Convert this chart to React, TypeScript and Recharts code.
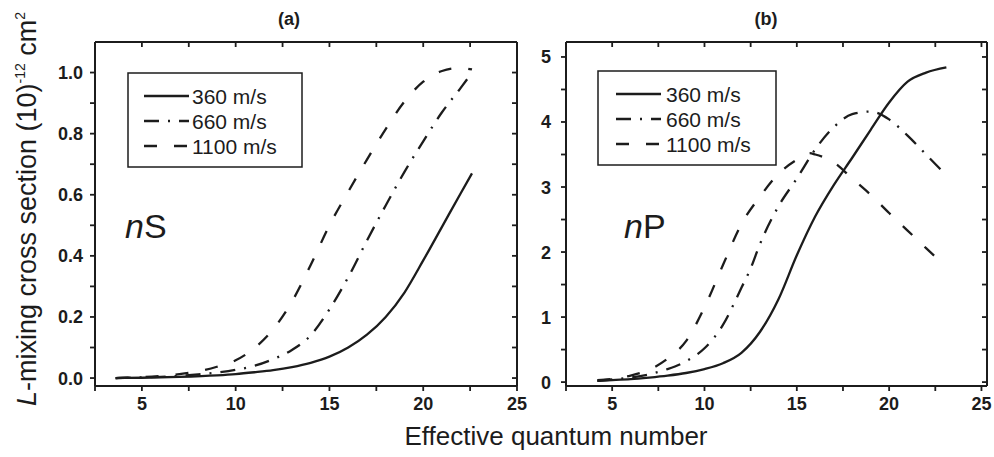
import React from 'react'
import { LineChart, Line, XAxis, YAxis } from 'recharts'

const W = 994
const H = 457
const FONT = '"Liberation Sans", Arial, Helvetica, sans-serif'
const INK = '#1c1c1c'

const speeds = ['360 m/s', '660 m/s', '1100 m/s']
const dashes = ['', '15 9 2 9', '13 17']

const xTicks = [2.5, 5, 7.5, 10, 12.5, 15, 17.5, 20, 22.5, 25]
const xMajor = [5, 10, 15, 20, 25]
const sYTicks = [0, 0.1, 0.2, 0.3, 0.4, 0.5, 0.6, 0.7, 0.8, 0.9, 1.0]
const pYTicks = [0, 0.5, 1, 1.5, 2, 2.5, 3, 3.5, 4, 4.5, 5]

// (a) nS
const sX360 = [3.6, 5, 7, 9, 10, 11, 12, 13, 14, 15, 16, 17, 18, 19, 20, 21, 22, 22.6]
const sY360 = [0, 0.001, 0.004, 0.009, 0.013, 0.019, 0.026, 0.036, 0.05, 0.07, 0.1, 0.142, 0.2, 0.28, 0.385, 0.495, 0.605, 0.67]
const sX660 = [3.6, 5, 6, 7, 8, 9, 10, 11, 12, 13, 14, 15, 16, 17, 18, 19, 20, 21, 22, 22.6]
const sY660 = [0, 0.002, 0.004, 0.007, 0.012, 0.018, 0.027, 0.04, 0.062, 0.092, 0.14, 0.225, 0.33, 0.45, 0.565, 0.675, 0.775, 0.87, 0.95, 1.0]
const sX1100 = [3.6, 5, 6, 7, 8, 9, 10, 11, 12, 13, 14, 15, 16, 17, 18, 19, 20, 21, 22, 22.6]
const sY1100 = [0, 0.003, 0.007, 0.013, 0.022, 0.037, 0.058, 0.098, 0.16, 0.25, 0.37, 0.5, 0.61, 0.715, 0.815, 0.905, 0.97, 1.005, 1.015, 1.01]

// (b) nP
const pX360 = [4.2, 5, 6, 7, 8, 9, 10, 11, 12, 13, 14, 15, 16, 17, 18, 19, 20, 21, 22, 23.1]
const pY360 = [0.02, 0.03, 0.045, 0.07, 0.1, 0.14, 0.2, 0.29, 0.45, 0.77, 1.27, 1.95, 2.55, 3.03, 3.45, 3.88, 4.3, 4.62, 4.76, 4.84]
const pX660 = [4.2, 5, 6, 7, 8, 9, 10, 11, 12, 12.5, 13, 14, 15, 16, 17, 18, 19, 20, 21, 22, 23.1]
const pY660 = [0.02, 0.04, 0.07, 0.12, 0.2, 0.32, 0.52, 0.88, 1.45, 1.75, 2.12, 2.7, 3.13, 3.58, 3.92, 4.12, 4.16, 4.04, 3.79, 3.5, 3.18]
const pX1100 = [4.2, 5, 6, 7, 8, 9, 10, 11, 12, 13, 14, 15, 15.7, 16, 17, 18, 19, 20, 21, 22, 23.1]
const pY1100 = [0.03, 0.05, 0.1, 0.19, 0.36, 0.63, 1.15, 1.8, 2.43, 2.85, 3.2, 3.42, 3.52, 3.5, 3.38, 3.13, 2.88, 2.6, 2.33, 2.06, 1.77]

const rows = (xs: number[], ys: number[]) => xs.map((x, i) => ({ x, y: ys[i] }))

const PLOT_TOP = 42
const PLOT_BOTTOM = 386
const TICK = 5

function BottomLabel(props: any) {
  const { x, y, payload } = props
  const v = payload.value
  if (!xMajor.includes(v)) return <g />
  return (
    <text x={x} y={y + 24 - TICK} textAnchor="middle" fontFamily={FONT} fontWeight="bold" fontSize={18} fill={INK}>
      {v}
    </text>
  )
}

function LeftLabel(props: any) {
  const { x, y, payload, gap, decimals } = props
  const v = payload.value
  const major = decimals ? Math.round(v * 10) % 2 === 0 : Number.isInteger(v)
  if (!major) return <g />
  return (
    <text x={x - gap} y={y + 6.5} textAnchor="end" fontFamily={FONT} fontWeight="bold" fontSize={18} fill={INK}>
      {decimals ? v.toFixed(1) : v}
    </text>
  )
}

interface PanelProps {
  left: number
  right: number
  xDomain: [number, number]
  yDomain: [number, number]
  yTicks: number[]
  decimals: boolean
  gap: number
  series: Array<Array<{ x: number; y: number }>>
}

function Panel(props: PanelProps) {
  const { left, right, xDomain, yDomain, yTicks, decimals, gap, series } = props
  const frame = { stroke: INK, strokeWidth: 2 }
  const tl = { stroke: INK, strokeWidth: 1.8 }
  // bottom/left axes take 1px, the mirrored top/right ones take none
  return (
    <div style={{ position: 'absolute', left: 0, top: 0 }}>
      <LineChart
        width={W}
        height={H}
        margin={{ top: PLOT_TOP, bottom: H - PLOT_BOTTOM - 1, left: left - 1, right: W - right }}
      >
        <XAxis xAxisId="b" type="number" dataKey="x" domain={xDomain} ticks={xTicks} interval={0}
          allowDataOverflow height={1} tickSize={TICK} tickMargin={0} tickLine={tl} axisLine={frame}
          tick={(p: any) => <BottomLabel {...p} />} />
        <XAxis xAxisId="t" orientation="top" mirror type="number" dataKey="x" domain={xDomain} ticks={xTicks}
          interval={0} allowDataOverflow height={1} tickSize={TICK} tickLine={tl} axisLine={frame}
          tick={() => <g />} />
        <YAxis yAxisId="l" type="number" domain={yDomain} ticks={yTicks} interval={0}
          allowDataOverflow width={1} tickSize={TICK} tickMargin={0} tickLine={tl} axisLine={frame}
          tick={(p: any) => <LeftLabel {...p} gap={gap - TICK} decimals={decimals} />} />
        <YAxis yAxisId="r" orientation="right" mirror type="number" domain={yDomain} ticks={yTicks}
          interval={0} allowDataOverflow width={1} tickSize={TICK} tickLine={tl} axisLine={frame}
          tick={() => <g />} />
        {series.map((data, i) => (
          <Line
            key={speeds[i]}
            xAxisId="b"
            yAxisId="l"
            data={data}
            dataKey="y"
            type="monotone"
            stroke={INK}
            strokeWidth={2.3}
            strokeDasharray={dashes[i] || undefined}
            dot={false}
            activeDot={false}
            isAnimationActive={false}
          />
        ))}
      </LineChart>
    </div>
  )
}

function LegendBox(props: { x: number; y: number; w: number; h: number; lineX: number; textX: number }) {
  const { x, y, w, h, lineX, textX } = props
  return (
    <g>
      <rect x={x} y={y} width={w} height={h} fill="#fff" stroke={INK} strokeWidth={1.5} />
      {speeds.map((s, i) => {
        const cy = y + 23 + i * 25
        return (
          <g key={s}>
            <line x1={x + lineX} y1={cy} x2={x + lineX + 45} y2={cy} stroke={INK} strokeWidth={2.3}
              strokeDasharray={dashes[i] || undefined} />
            <text x={x + textX} y={cy + 7.5} fontFamily={FONT} fontSize={21} fill={INK}>{s}</text>
          </g>
        )
      })}
    </g>
  )
}

export default function App() {
  const sSeries = [rows(sX360, sY360), rows(sX660, sY660), rows(sX1100, sY1100)]
  const pSeries = [rows(pX360, pY360), rows(pX660, pY660), rows(pX1100, pY1100)]
  return (
    <div style={{ position: 'absolute', left: 0, top: 0, width: W, height: H, background: '#fff', fontFamily: FONT }}>
      <Panel left={95} right={517} xDomain={[2.5, 25]} yDomain={[-0.026, 1.1]} yTicks={sYTicks}
        decimals gap={12} series={sSeries} />
      <Panel left={566} right={987} xDomain={[2.5, 25.3]} yDomain={[-0.06, 5.23]} yTicks={pYTicks}
        decimals={false} gap={15} series={pSeries} />
      <svg width={W} height={H} style={{ position: 'absolute', left: 0, top: 0, pointerEvents: 'none' }}>
        <text x={289} y={25} textAnchor="middle" fontWeight="bold" fontSize={18} fill={INK}>(a)</text>
        <text x={766} y={25} textAnchor="middle" fontWeight="bold" fontSize={18} fill={INK}>(b)</text>
        <LegendBox x={128} y={73} w={174} h={94} lineX={16} textX={64} />
        <LegendBox x={598} y={71} w={178} h={94} lineX={18} textX={68} />
        <text x={125} y={238} fontSize={34} fill={INK}>
          <tspan fontStyle="italic">n</tspan>S
        </text>
        <text x={624} y={238} fontSize={34} fill={INK}>
          <tspan fontStyle="italic">n</tspan>P
        </text>
        <text x={556} y={445} textAnchor="middle" fontSize={26} fill={INK}>Effective quantum number</text>
        <text transform="translate(36,209) rotate(-90)" textAnchor="middle" fontSize={27} fill={INK}>
          <tspan fontStyle="italic">L</tspan>-mixing cross section (10)
          <tspan fontSize={14} dy={-11}>-12</tspan>
          <tspan dy={11}> cm</tspan>
          <tspan fontSize={14} dy={-11}>2</tspan>
        </text>
      </svg>
    </div>
  )
}
